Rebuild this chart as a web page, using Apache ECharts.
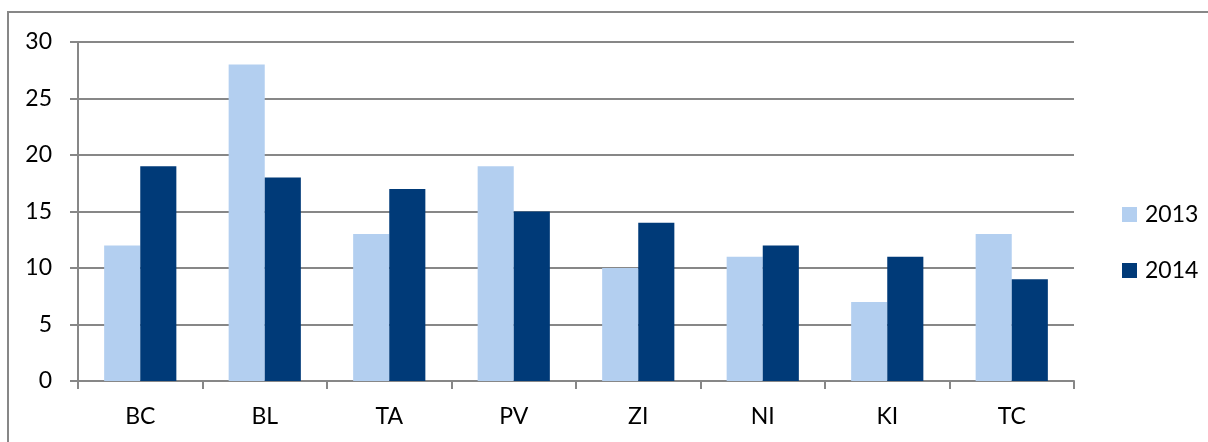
<!DOCTYPE html>
<html>
<head>
<meta charset="utf-8">
<style>
  html, body { margin: 0; padding: 0; background: #fff; }
  #chart { width: 1208px; height: 442px; }
</style>
<script src="https://cdn.jsdelivr.net/npm/echarts@6/dist/echarts.min.js"></script>
</head>
<body>
<div id="chart"></div>
<script>
const categories = ['BC', 'BL', 'TA', 'PV', 'ZI', 'NI', 'KI', 'TC']
const values2013 = [12, 28, 13, 19, 10, 11, 7, 13]
const values2014 = [19, 18, 17, 15, 14, 12, 11, 9]

const grey = '#878787'
const font = 'Lato, "Open Sans", sans-serif'

const chart = echarts.init(document.getElementById('chart'), null, { renderer: 'canvas' })

chart.setOption({
  backgroundColor: '#fff',
  animation: false,
  textStyle: { fontFamily: font },
  graphic: [
    {
      type: 'rect',
      shape: { x: 8, y: 12, width: 1400, height: 600 },
      style: { fill: 'none', stroke: grey, lineWidth: 2 },
      silent: true,
      z: -1
    }
  ],
  grid: { left: 78, right: 134, top: 42, bottom: 61 },
  legend: {
    orient: 'vertical',
    left: 1117,
    top: 198,
    itemWidth: 15,
    itemHeight: 15,
    itemGap: 33,
    icon: 'rect',
    textStyle: { color: '#000', fontSize: 23, fontFamily: font, padding: [0, 0, 0, 3] },
    data: ['2013', '2014']
  },
  xAxis: {
    type: 'category',
    data: categories,
    axisLine: { lineStyle: { color: grey, width: 2 } },
    axisTick: { show: true, length: 8, alignWithLabel: false, lineStyle: { color: grey, width: 2 } },
    axisLabel: { color: '#000', fontSize: 23, margin: 24, fontFamily: font },
    splitLine: { show: false }
  },
  yAxis: {
    type: 'value',
    min: 0,
    max: 30,
    interval: 5,
    axisLine: { show: true, lineStyle: { color: grey, width: 2 } },
    axisTick: { show: true, length: 8, lineStyle: { color: grey, width: 2 } },
    axisLabel: { color: '#000', fontSize: 23, margin: 26, fontFamily: font },
    splitLine: { lineStyle: { color: grey, width: 2 } }
  },
  series: [
    {
      name: '2013',
      type: 'bar',
      data: values2013,
      barGap: '0%',
      barCategoryGap: '42%',
      itemStyle: { color: '#b3cff0' }
    },
    {
      name: '2014',
      type: 'bar',
      data: values2014,
      itemStyle: { color: '#003a78' }
    }
  ]
})
</script>
</body>
</html>
